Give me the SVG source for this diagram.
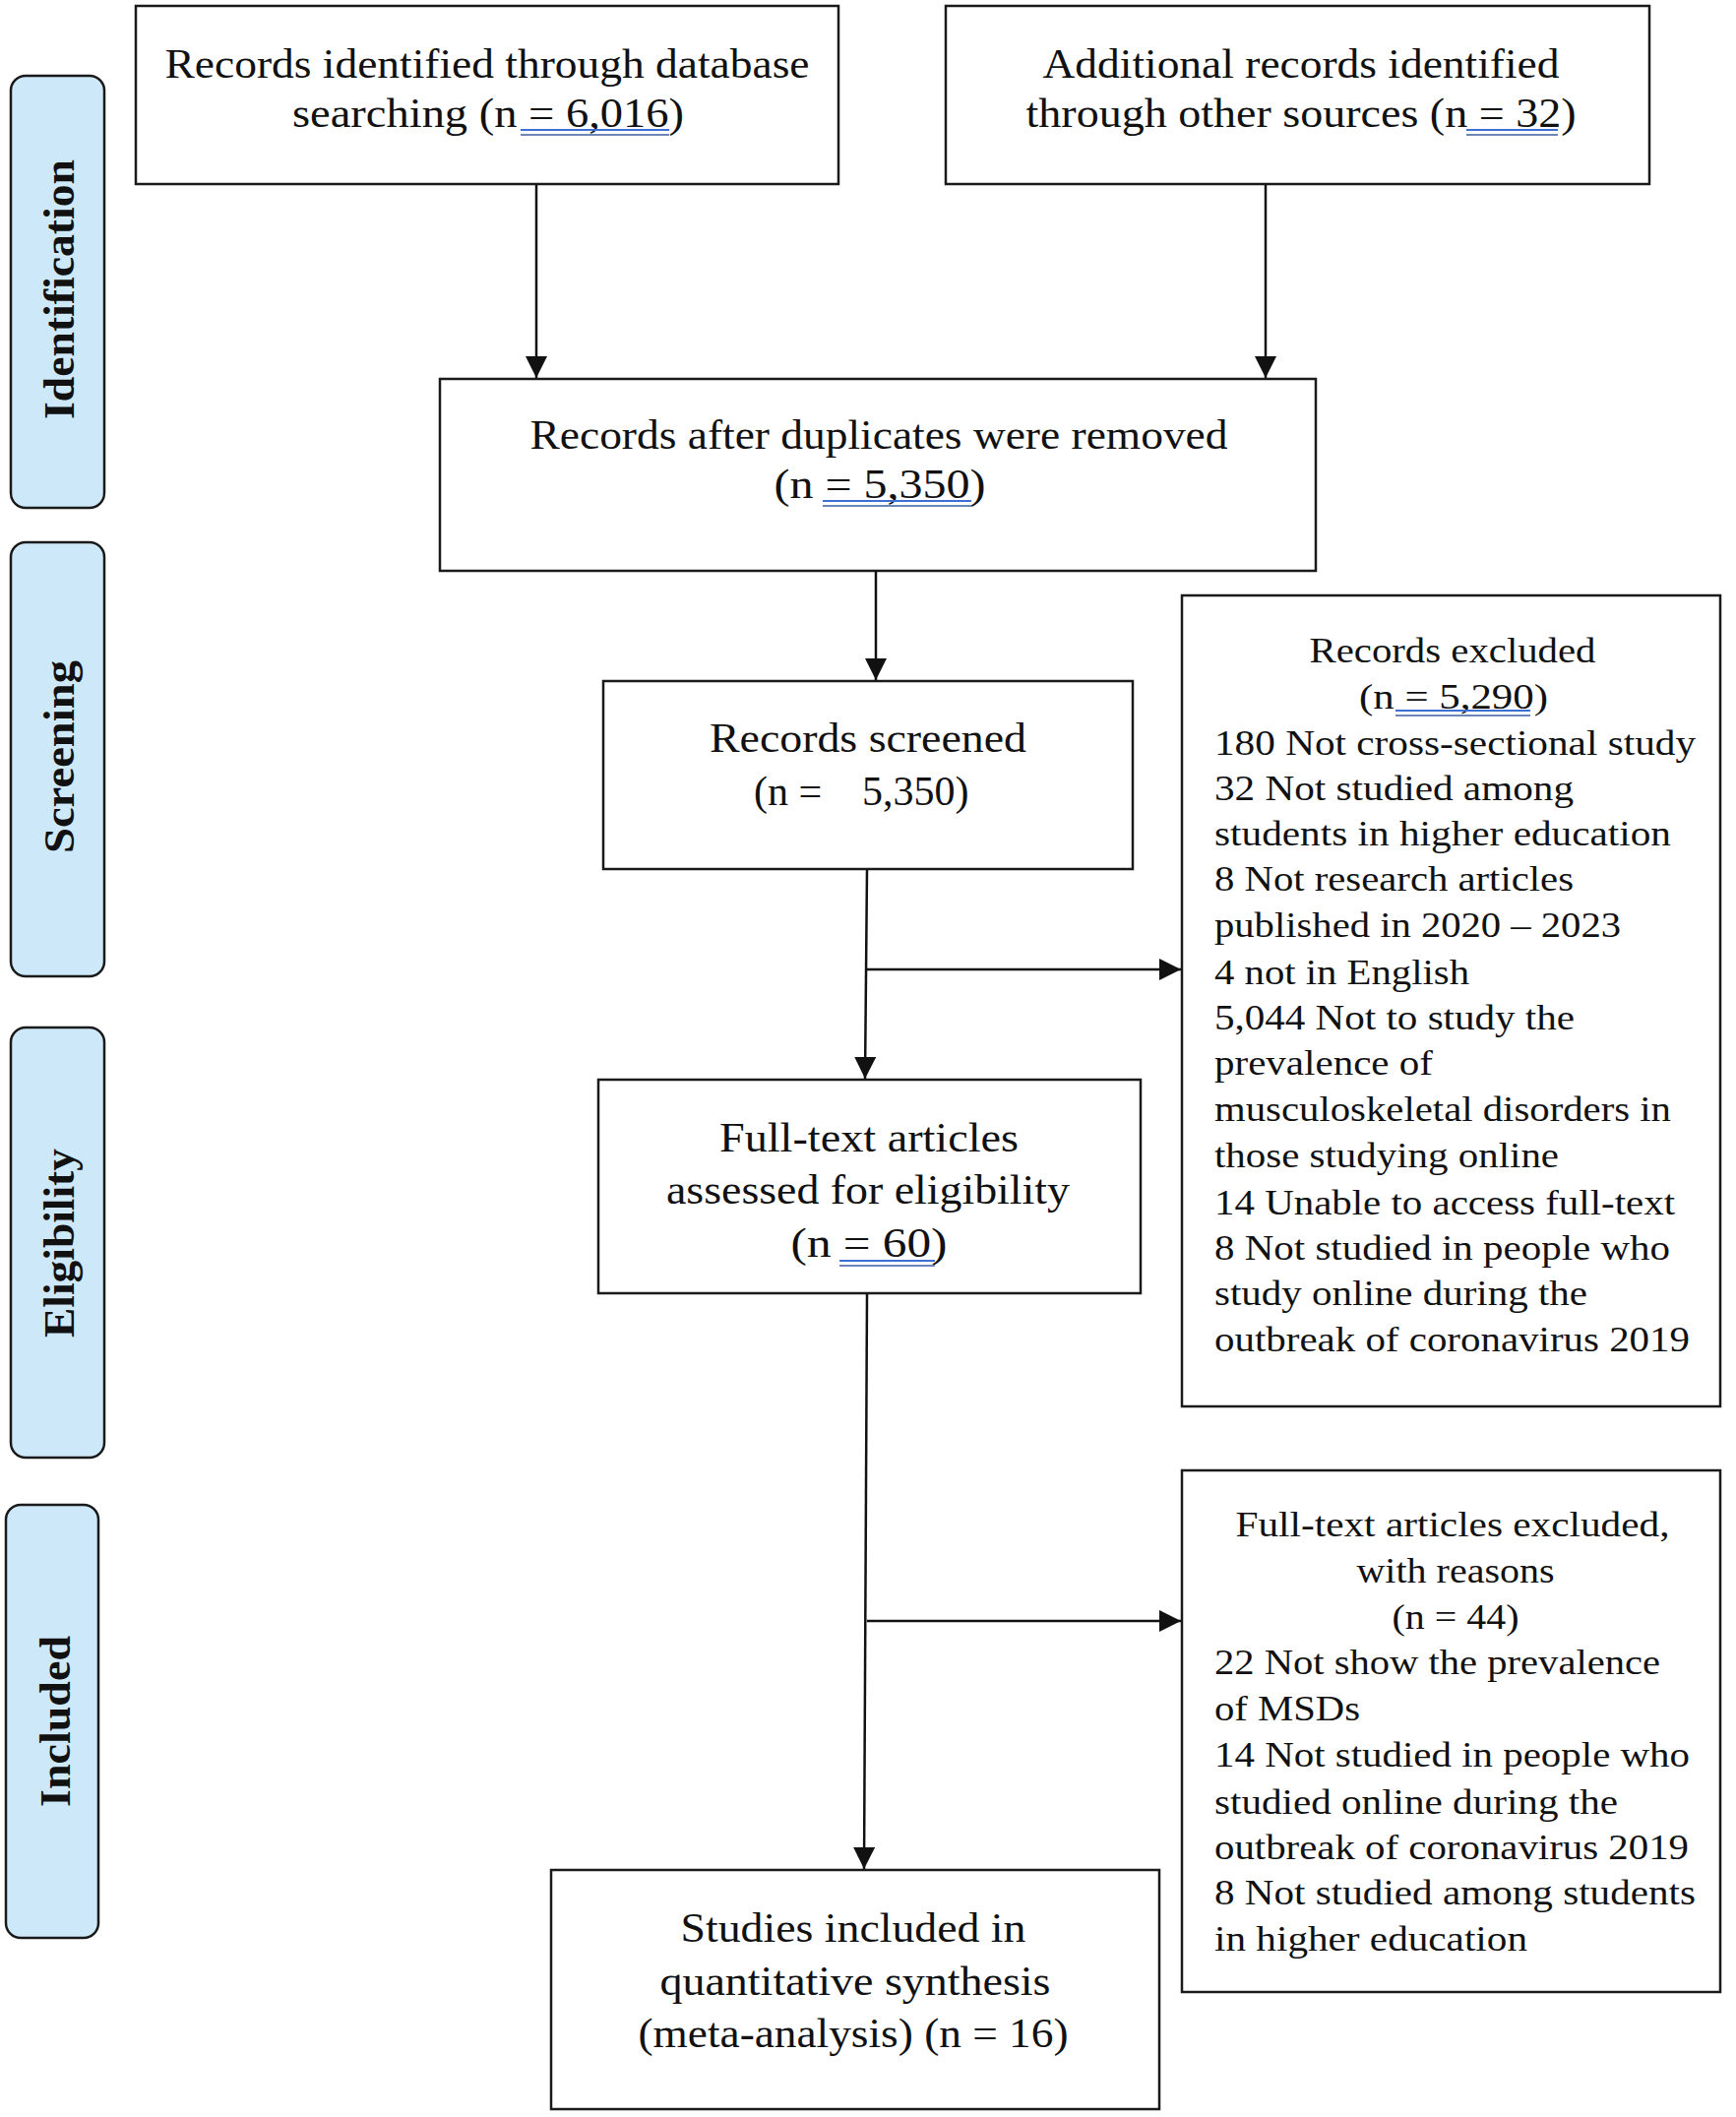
<svg xmlns="http://www.w3.org/2000/svg" width="1764" height="2151" viewBox="0 0 1764 2151">
<defs>
<style>
.box{fill:#fff;stroke:#1a1a1a;stroke-width:2.5}
.side{fill:#cde9f9;stroke:#1a1a1a;stroke-width:2.5}
.t{font-family:"Liberation Serif","Times New Roman",serif;font-size:42px;fill:#111}
.s{font-family:"Liberation Serif","Times New Roman",serif;font-size:35px;fill:#111}
.lab{font-family:"Liberation Serif","Times New Roman",serif;font-size:44px;font-weight:bold;fill:#111}
.m{text-anchor:middle}
.c{fill:none;stroke:#111;stroke-width:2.5}
.u1{stroke:#3d6fd6;stroke-width:2}
.u2{stroke:#6d86b8;stroke-width:2}
</style>
<marker id="ah" viewBox="0 0 10 10" refX="10" refY="5" markerWidth="22" markerHeight="22" markerUnits="userSpaceOnUse" orient="auto">
<path d="M0,0 L10,5 L0,10 z" fill="#111"/>
</marker>
</defs>
<rect width="1764" height="2151" fill="#fff"/>

<g id="label-identification">
<rect class="side" x="11" y="77" width="95" height="439" rx="15"/>
<text class="lab m" transform="translate(75,294) rotate(-90)" textLength="264" lengthAdjust="spacingAndGlyphs">Identification</text>
</g>
<g id="label-screening">
<rect class="side" x="11" y="551" width="95" height="441" rx="15"/>
<text class="lab m" transform="translate(75,769) rotate(-90)" textLength="196" lengthAdjust="spacingAndGlyphs">Screening</text>
</g>
<g id="label-eligibility">
<rect class="side" x="11" y="1044" width="95" height="437" rx="15"/>
<text class="lab m" transform="translate(75,1263) rotate(-90)" textLength="192" lengthAdjust="spacingAndGlyphs">Eligibility</text>
</g>
<g id="label-included">
<rect class="side" x="6" y="1529" width="94" height="440" rx="15"/>
<text class="lab m" transform="translate(71,1749) rotate(-90)" textLength="174" lengthAdjust="spacingAndGlyphs">Included</text>
</g>

<g id="connectors">
<line class="c" x1="545" y1="187" x2="545" y2="384" marker-end="url(#ah)"/>
<line class="c" x1="1286" y1="187" x2="1286" y2="384" marker-end="url(#ah)"/>
<line class="c" x1="890" y1="580" x2="890" y2="691" marker-end="url(#ah)"/>
<path class="c" d="M881,883 L879,1096" marker-end="url(#ah)"/>
<line class="c" x1="881" y1="985" x2="1200" y2="985" marker-end="url(#ah)"/>
<path class="c" d="M881,1314 L878,1899" marker-end="url(#ah)"/>
<line class="c" x1="881" y1="1647" x2="1200" y2="1647" marker-end="url(#ah)"/>
</g>

<g id="box-database">
<rect class="box" x="138" y="6" width="714" height="181"/>
<text class="t m" x="495" y="79" textLength="655" lengthAdjust="spacingAndGlyphs">Records identified through database</text>
<text class="t m" x="496" y="129" textLength="398" lengthAdjust="spacingAndGlyphs">searching (n = 6,016)</text>
<line class="u1" x1="529" y1="132" x2="680" y2="132"/>
<line class="u2" x1="529" y1="137" x2="680" y2="137"/>
</g>

<g id="box-other">
<rect class="box" x="961" y="6" width="715" height="181"/>
<text class="t m" x="1322" y="79" textLength="525" lengthAdjust="spacingAndGlyphs">Additional records identified</text>
<text class="t m" x="1322" y="129" textLength="559" lengthAdjust="spacingAndGlyphs">through other sources (n = 32)</text>
<line class="u1" x1="1490" y1="132" x2="1583" y2="132"/>
<line class="u2" x1="1490" y1="137" x2="1583" y2="137"/>
</g>

<g id="box-duplicates">
<rect class="box" x="447" y="385" width="890" height="195"/>
<text class="t m" x="893" y="456" textLength="709" lengthAdjust="spacingAndGlyphs">Records after duplicates were removed</text>
<text class="t m" x="894" y="506" textLength="215" lengthAdjust="spacingAndGlyphs">(n = 5,350)</text>
<line class="u1" x1="836" y1="509" x2="987" y2="509"/>
<line class="u2" x1="836" y1="514" x2="987" y2="514"/>
</g>

<g id="box-screened">
<rect class="box" x="613" y="692" width="538" height="191"/>
<text class="t m" x="882" y="764" textLength="322" lengthAdjust="spacingAndGlyphs">Records screened</text>
<text class="t" y="818"><tspan x="766">(n =</tspan><tspan x="876">5,350)</tspan></text>
</g>

<g id="box-records-excluded">
<rect class="box" x="1201" y="605" width="547" height="824"/>
<text class="s m" x="1476" y="673" textLength="291" lengthAdjust="spacingAndGlyphs">Records excluded</text>
<text class="s m" x="1477" y="720" textLength="192" lengthAdjust="spacingAndGlyphs">(n = 5,290)</text>
<line class="u1" x1="1418" y1="722" x2="1555" y2="722"/>
<line class="u2" x1="1418" y1="727" x2="1555" y2="727"/>
<text class="s" x="1234" y="767" textLength="489" lengthAdjust="spacingAndGlyphs">180 Not cross-sectional study</text>
<text class="s" x="1234" y="813" textLength="365" lengthAdjust="spacingAndGlyphs">32 Not studied among</text>
<text class="s" x="1234" y="859" textLength="464" lengthAdjust="spacingAndGlyphs">students in higher education</text>
<text class="s" x="1234" y="905" textLength="365" lengthAdjust="spacingAndGlyphs">8 Not research articles</text>
<text class="s" x="1234" y="952" textLength="413" lengthAdjust="spacingAndGlyphs">published in 2020 – 2023</text>
<text class="s" x="1234" y="1000" textLength="259" lengthAdjust="spacingAndGlyphs">4 not in English</text>
<text class="s" x="1234" y="1046" textLength="366" lengthAdjust="spacingAndGlyphs">5,044 Not to study the</text>
<text class="s" x="1234" y="1092" textLength="222" lengthAdjust="spacingAndGlyphs">prevalence of</text>
<text class="s" x="1234" y="1139" textLength="464" lengthAdjust="spacingAndGlyphs">musculoskeletal disorders in</text>
<text class="s" x="1234" y="1186" textLength="350" lengthAdjust="spacingAndGlyphs">those studying online</text>
<text class="s" x="1234" y="1234" textLength="468" lengthAdjust="spacingAndGlyphs">14 Unable to access full-text</text>
<text class="s" x="1234" y="1280" textLength="463" lengthAdjust="spacingAndGlyphs">8 Not studied in people who</text>
<text class="s" x="1234" y="1326" textLength="379" lengthAdjust="spacingAndGlyphs">study online during the</text>
<text class="s" x="1234" y="1373" textLength="483" lengthAdjust="spacingAndGlyphs">outbreak of coronavirus 2019</text>
</g>

<g id="box-fulltext">
<rect class="box" x="608" y="1097" width="551" height="217"/>
<text class="t m" x="883" y="1170" textLength="304" lengthAdjust="spacingAndGlyphs">Full-text articles</text>
<text class="t m" x="882" y="1223" textLength="410" lengthAdjust="spacingAndGlyphs">assessed for eligibility</text>
<text class="t m" x="883" y="1277" textLength="159" lengthAdjust="spacingAndGlyphs">(n = 60)</text>
<line class="u1" x1="853" y1="1281" x2="950" y2="1281"/>
<line class="u2" x1="853" y1="1286" x2="950" y2="1286"/>
</g>

<g id="box-fulltext-excluded">
<rect class="box" x="1201" y="1494" width="547" height="530"/>
<text class="s m" x="1476" y="1561" textLength="441" lengthAdjust="spacingAndGlyphs">Full-text articles excluded,</text>
<text class="s m" x="1479" y="1608" textLength="201" lengthAdjust="spacingAndGlyphs">with reasons</text>
<text class="s m" x="1479" y="1655" textLength="129" lengthAdjust="spacingAndGlyphs">(n = 44)</text>
<text class="s" x="1234" y="1701" textLength="453" lengthAdjust="spacingAndGlyphs">22 Not show the prevalence</text>
<text class="s" x="1234" y="1748" textLength="148" lengthAdjust="spacingAndGlyphs">of MSDs</text>
<text class="s" x="1234" y="1795" textLength="483" lengthAdjust="spacingAndGlyphs">14 Not studied in people who</text>
<text class="s" x="1234" y="1843" textLength="410" lengthAdjust="spacingAndGlyphs">studied online during the</text>
<text class="s" x="1234" y="1889" textLength="482" lengthAdjust="spacingAndGlyphs">outbreak of coronavirus 2019</text>
<text class="s" x="1234" y="1935" textLength="489" lengthAdjust="spacingAndGlyphs">8 Not studied among students</text>
<text class="s" x="1234" y="1982" textLength="318" lengthAdjust="spacingAndGlyphs">in higher education</text>
</g>

<g id="box-included">
<rect class="box" x="560" y="1900" width="618" height="243"/>
<text class="t m" x="867" y="1973" textLength="351" lengthAdjust="spacingAndGlyphs">Studies included in</text>
<text class="t m" x="869" y="2027" textLength="397" lengthAdjust="spacingAndGlyphs">quantitative synthesis</text>
<text class="t m" x="867" y="2080" textLength="437" lengthAdjust="spacingAndGlyphs">(meta-analysis) (n = 16)</text>
</g>
</svg>
